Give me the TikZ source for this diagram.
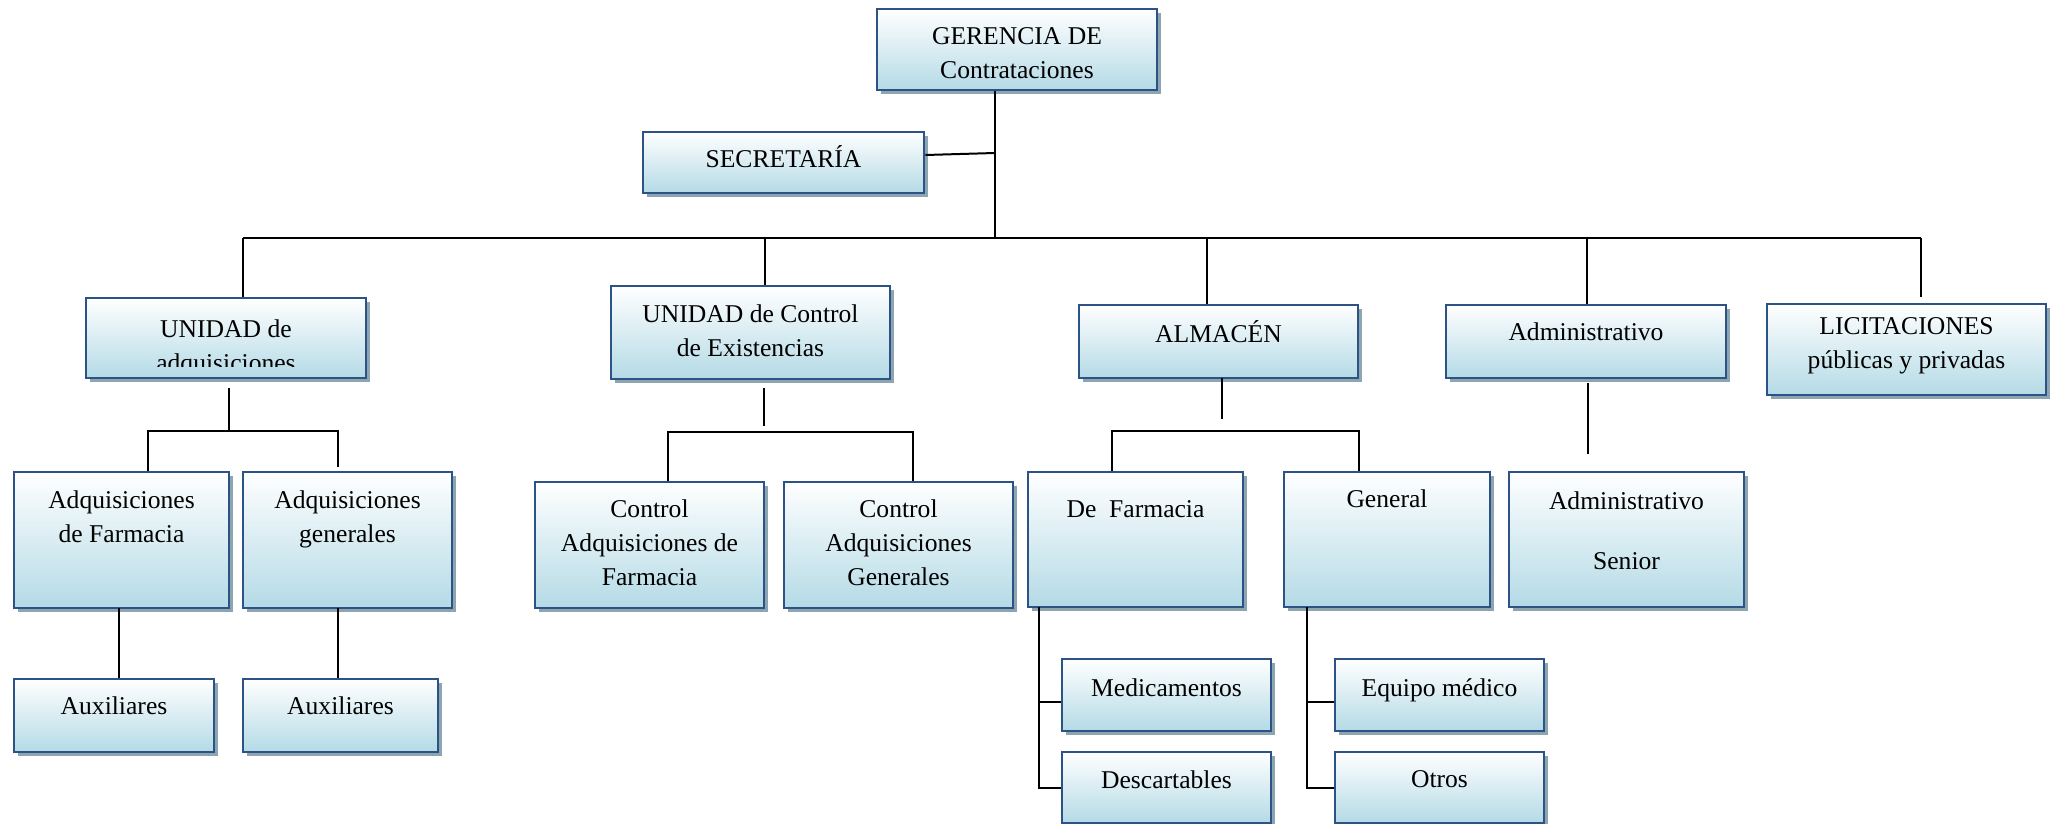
\documentclass[tikz,border=0pt]{standalone}
\usepackage{fontspec}
\setmainfont{Liberation Serif}
\usetikzlibrary{shadows}

\definecolor{boxblue}{RGB}{44,82,134}
\definecolor{boxfill}{RGB}{180,218,230}
\definecolor{boxshade}{RGB}{140,165,176}

\tikzset{
  orgbox/.style={draw=boxblue, line width=1.3pt, top color=white, bottom color=boxfill,
    inner sep=0pt, drop shadow={shadow xshift=2.2pt, shadow yshift=-2.2pt, fill=boxshade, opacity=1}},
  orgtext/.style={align=center, inner sep=0pt, font=\fontsize{12.8}{17}\selectfont},
  link/.style={line width=1pt},
}

\begin{document}
\begin{tikzpicture}[x=0.5pt, y=-0.5pt]
  \useasboundingbox (0,0) rectangle (2050,824);

  % Junction points of the connectors
  \coordinate (gv) at (995,238);
  \coordinate (sj) at (995,153);
  \coordinate (b1) at (243,238);
  \coordinate (b2) at (765,238);
  \coordinate (b3) at (1207,238);
  \coordinate (b4) at (1587,238);
  \coordinate (b5) at (1921,238);
  \coordinate (l5) at (1921,297);
  \coordinate (ua1) at (229,388);
  \coordinate (ua2) at (229,431);
  \coordinate (ua-l) at (148,431);
  \coordinate (ua-r) at (338,431);
  \coordinate (ua-e) at (338,467);
  \coordinate (uc1) at (764,388);
  \coordinate (uc2) at (764,426);
  \coordinate (uc-l) at (668,432);
  \coordinate (uc-r) at (913,432);
  \coordinate (al1) at (1222,378);
  \coordinate (al2) at (1222,419);
  \coordinate (al-l) at (1112,431);
  \coordinate (al-r) at (1359,431);
  \coordinate (ad1) at (1588,383);
  \coordinate (ad2) at (1588,454);
  \coordinate (f1) at (119,608);
  \coordinate (f2) at (338,608);
  \coordinate (df1) at (1039,607);
  \coordinate (gn1) at (1307,607);

  % Boxes
  \node[orgbox, minimum width=140pt, minimum height=40.5pt] (ger) at (1017,49.5) {};
  \node[orgbox, minimum width=140.5pt, minimum height=30.5pt] (sec) at (783.5,162.5) {};
  \node[orgbox, minimum width=140pt, minimum height=40pt] (uadq) at (226,338) {};
  \node[orgbox, minimum width=139.5pt, minimum height=46.5pt] (ucon) at (750.5,332.5) {};
  \node[orgbox, minimum width=139.5pt, minimum height=36.5pt] (alm) at (1218.5,341.5) {};
  \node[orgbox, minimum width=140pt, minimum height=36.5pt] (adm) at (1586,341.5) {};
  \node[orgbox, minimum width=139.5pt, minimum height=45.5pt] (lic) at (1906.5,349.5) {};
  \node[orgbox, minimum width=107.5pt, minimum height=68pt] (adf) at (121.5,540) {};
  \node[orgbox, minimum width=104.5pt, minimum height=68pt] (adg) at (347.5,540) {};
  \node[orgbox, minimum width=114.5pt, minimum height=63pt] (caf) at (649.5,545) {};
  \node[orgbox, minimum width=114.5pt, minimum height=63pt] (cag) at (898.5,545) {};
  \node[orgbox, minimum width=107.5pt, minimum height=67.5pt] (dfa) at (1135.5,539.5) {};
  \node[orgbox, minimum width=103pt, minimum height=67.5pt] (gen) at (1387,539.5) {};
  \node[orgbox, minimum width=117.5pt, minimum height=67.5pt] (ads) at (1626.5,539.5) {};
  \node[orgbox, minimum width=100pt, minimum height=36.5pt] (aux1) at (114,715.5) {};
  \node[orgbox, minimum width=97.5pt, minimum height=36.5pt] (aux2) at (340.5,715.5) {};
  \node[orgbox, minimum width=104.5pt, minimum height=36pt] (med) at (1166.5,695) {};
  \node[orgbox, minimum width=104.5pt, minimum height=35.5pt] (des) at (1166.5,787.5) {};
  \node[orgbox, minimum width=104.5pt, minimum height=36pt] (eqm) at (1439.5,695) {};
  \node[orgbox, minimum width=104.5pt, minimum height=35.5pt] (otr) at (1439.5,787.5) {};

  % Texts
  \node[orgtext] (ger-t) at (1017,53) {GERENCIA DE\\Contrataciones};
  \node[orgtext] (sec-t) at (783.5,157) {SECRETARÍA};
  \begin{scope}
    \clip (88,300) rectangle (364,366);
    \node[orgtext] (uadq-t) at (226,348) {UNIDAD de\\adquisiciones};
  \end{scope}
  \node[orgtext] (ucon-t) at (750.5,330.5) {UNIDAD de Control\\de Existencias};
  \node[orgtext] (alm-t) at (1218.5,332) {ALMACÉN};
  \node[orgtext] (adm-t) at (1586,332) {Administrativo};
  \node[orgtext] (lic-t) at (1906.5,346) {LICITACIONES\\públicas y privadas};
  \node[orgtext] (adf-t) at (121.5,516.5) {Adquisiciones\\de Farmacia};
  \node[orgtext] (adg-t) at (347.5,519.5) {Adquisiciones\\generales};
  \node[orgtext] (caf-t) at (649.5,543) {Control\\Adquisiciones de\\Farmacia};
  \node[orgtext] (cag-t) at (898.5,543) {Control\\Adquisiciones\\Generales};
  \node[orgtext] (dfa-t) at (1135.5,509) {De\ \ Farmacia};
  \node[orgtext] (gen-t) at (1387,499) {General};
  \node[orgtext] (ads-t) at (1626.5,531) {Administrativo\\[13pt]Senior};
  \node[orgtext] (aux1-t) at (114,706) {Auxiliares};
  \node[orgtext] (aux2-t) at (340.5,706) {Auxiliares};
  \node[orgtext] (med-t) at (1166.5,687.5) {Medicamentos};
  \node[orgtext] (des-t) at (1166.5,779.5) {Descartables};
  \node[orgtext] (eqm-t) at (1439.5,690) {Equipo médico};
  \node[orgtext] (otr-t) at (1439.5,779.5) {Otros};

  % Top level
  \draw[link] (ger.south -| gv) -- (gv);
  \draw[link] ([yshift=3.75pt]sec.east) -- (sj);
  \draw[link] (b1) -- (b5);
  \draw[link] (b1) -- (b1 |- uadq.north);
  \draw[link] (b2) -- (b2 |- ucon.north);
  \draw[link] (b3) -- (b3 |- alm.north);
  \draw[link] (b4) -- (b4 |- adm.north);
  \draw[link] (b5) -- (l5);

  % Second level
  \draw[link] (ua1) -- (ua2);
  \draw[link] (ua-l |- adf.north) -- (ua-l) -- (ua-r) -- (ua-e);
  \draw[link] (uc1) -- (uc2);
  \draw[link] (uc-l |- caf.north) -- (uc-l) -- (uc-r) -- (uc-r |- cag.north);
  \draw[link] (al1) -- (al2);
  \draw[link] (al-l |- dfa.north) -- (al-l) -- (al-r) -- (al-r |- gen.north);
  \draw[link] (ad1) -- (ad2);

  % Third level
  \draw[link] (f1) -- (f1 |- aux1.north);
  \draw[link] (f2) -- (f2 |- aux2.north);
  \draw[link] (df1) -- (df1 |- des.west) -- (des.west);
  \draw[link] ([yshift=-3.5pt]med.west -| df1) -- ([yshift=-3.5pt]med.west);
  \draw[link] (gn1) -- (gn1 |- otr.west) -- (otr.west);
  \draw[link] ([yshift=-3.5pt]eqm.west -| gn1) -- ([yshift=-3.5pt]eqm.west);
\end{tikzpicture}
\end{document}
